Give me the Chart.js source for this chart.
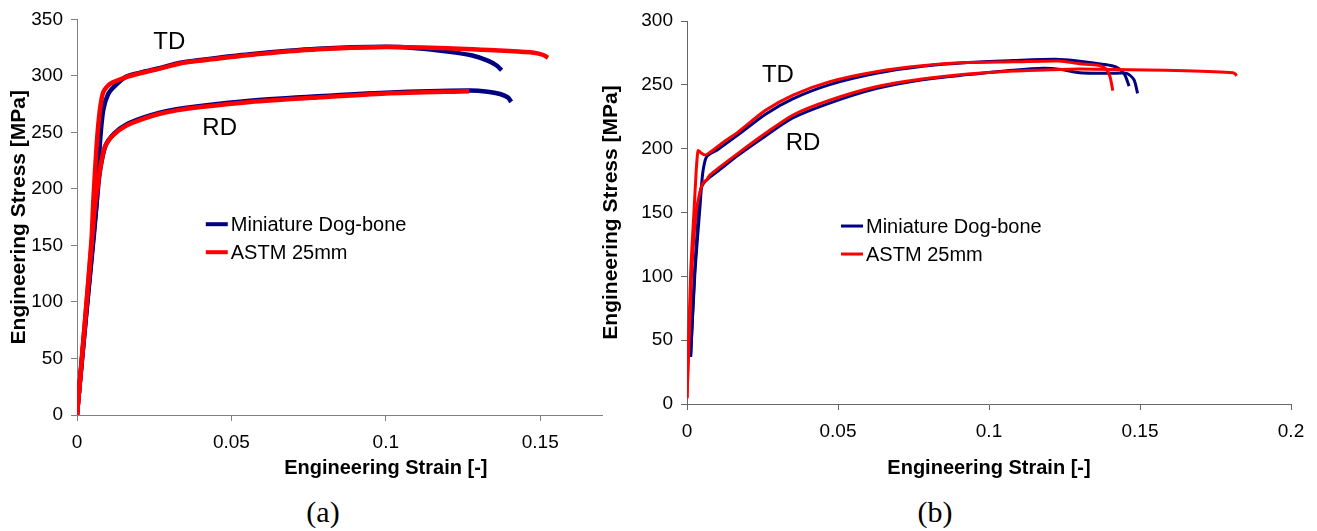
<!DOCTYPE html>
<html>
<head>
<meta charset="utf-8">
<script src="https://cdn.jsdelivr.net/npm/chart.js@4.4.1/dist/chart.umd.min.js"></script>
<style>
  body { margin: 0; background: #fff; width: 1317px; height: 531px; position: relative; overflow: hidden; }
  canvas { position: absolute; top: 0; }
  #chartA { left: 0; }
  #chartB { left: 596px; }
  .cap { position: absolute; top: 512px; transform: translate(-50%, -50%);
         font-family: 'Liberation Serif', 'Times New Roman', serif; font-size: 30px; color: #000; }
</style>
</head>
<body>
<canvas id="chartA" width="612" height="490"></canvas>
<canvas id="chartB" width="721" height="490"></canvas>
<div class="cap" style="left:323px">(a)</div>
<div class="cap" style="left:935px">(b)</div>
<script>
// ---- data (strain [-], stress [MPa]) ----
const seriesNames = ['Miniature Dog-bone', 'ASTM 25mm'];

// (a)
const aMiniTdStrain = [0, 0.0003, 0.003, 0.0052, 0.0064, 0.0074, 0.0085, 0.0101, 0.0122, 0.016, 0.0214, 0.027, 0.033, 0.04, 0.056, 0.078, 0.1, 0.11, 0.12, 0.128, 0.133, 0.136, 0.1375];
const aMiniTdStress = [0, 10, 90, 155, 190, 240, 270, 284, 291, 299.5, 303.5, 307, 311.5, 314.2, 319.2, 324, 325.8, 324.5, 321.5, 318, 313.5, 309, 305];
const aAstmTdStrain = [0, 0.0025, 0.0047, 0.0053, 0.0064, 0.0074, 0.0085, 0.0107, 0.016, 0.0214, 0.0268, 0.0333, 0.04, 0.056, 0.078, 0.1, 0.12, 0.14, 0.148, 0.151, 0.1525];
const aAstmTdStress = [0, 80, 155, 190, 240, 269.5, 285.5, 293, 299, 303, 306.5, 311, 313.5, 318.5, 323.5, 325.5, 324.5, 322, 320.5, 318.5, 316];
const aMiniRdStrain = [0, 0.0003, 0.003, 0.0055, 0.0066, 0.0075, 0.0092, 0.012, 0.016, 0.0214, 0.0268, 0.0322, 0.04, 0.056, 0.078, 0.1, 0.127, 0.133, 0.137, 0.1395, 0.1406];
const aMiniRdStress = [0, 10, 90, 160, 195, 217, 238, 249, 257, 263, 267.5, 270.5, 273.5, 278, 282, 285.2, 287, 286, 284, 281, 277];
const aAstmRdStrain = [0, 0.0025, 0.0047, 0.0058, 0.0066, 0.0074, 0.009, 0.0117, 0.016, 0.0214, 0.0268, 0.0322, 0.04, 0.056, 0.078, 0.1, 0.127];
const aAstmRdStress = [0, 80, 150, 185, 200, 216.5, 237, 247.5, 256, 262, 266.5, 269.5, 272.5, 277, 281, 284.5, 286.5];

// (b)
const bMiniTdStrain = [0.0012, 0.0026, 0.0043, 0.0052, 0.0065, 0.01, 0.017, 0.026, 0.035, 0.047, 0.0626, 0.078, 0.093, 0.108, 0.122, 0.13, 0.138, 0.142, 0.1447, 0.1464];
const bMiniTdStress = [37, 102, 154.5, 180.7, 193.7, 199, 211, 227, 239, 250, 259, 264.5, 267.5, 269, 270, 268.5, 266, 264, 259, 249];
const bAstmTdStrain = [0, 0.0012, 0.0024, 0.003, 0.0034, 0.0037, 0.0045, 0.006, 0.0075, 0.0131, 0.0169, 0.026, 0.0351, 0.0473, 0.0626, 0.0778, 0.093, 0.1082, 0.1234, 0.13, 0.1356, 0.1385, 0.14, 0.141];
const bAstmTdStress = [4.5, 102, 154.5, 180.7, 193.7, 198.4, 197, 195, 197, 206.8, 213, 230, 242, 252.5, 260.3, 265, 267.4, 268, 268.7, 266.5, 265.5, 263, 257, 245.5];
const bMiniRdStrain = [0.0012, 0.0025, 0.0038, 0.0045, 0.0055, 0.0071, 0.01, 0.017, 0.026, 0.035, 0.047, 0.0626, 0.078, 0.093, 0.108, 0.118, 0.124, 0.13, 0.14, 0.1456, 0.148, 0.1492];
const bMiniRdStress = [37, 102, 150, 167.6, 173, 176.8, 182, 195, 210, 224, 235.5, 247, 254, 258, 261.5, 263, 262, 259.5, 259, 259, 254, 243.3];
const bAstmRdStrain = [0, 0.0015, 0.003, 0.0045, 0.0054, 0.0065, 0.0076, 0.0169, 0.026, 0.0351, 0.0473, 0.0626, 0.0778, 0.093, 0.1082, 0.1234, 0.13, 0.152, 0.165, 0.1808, 0.1815, 0.182];
const bAstmRdStress = [4.5, 100, 150, 168, 173.5, 175.5, 179.4, 196.3, 212, 226.4, 238, 248.5, 254.6, 258.5, 260.8, 262, 262.4, 261.6, 261, 259.5, 258.5, 257];

const BLUE = '#000080';
const RED = '#ff0000';
const FONT = "'Liberation Sans', Arial, sans-serif";

function pts(xs, ys) {
  return xs.map((v, i) => ({ x: v, y: ys[i] }));
}

function line(name, xs, ys, color, width) {
  return {
    label: name,
    data: pts(xs, ys),
    borderColor: color,
    backgroundColor: color,
    borderWidth: width,
    pointRadius: 0,
    showLine: true,
    tension: 0.25,
    fill: false
  };
}

// draws TD/RD labels, the in-plot legend and the x axis title
const notes = {
  id: 'notes',
  afterDatasetsDraw(chart, args, opts) {
    const { ctx } = chart;
    const x = chart.scales.x, y = chart.scales.y;
    ctx.save();
    ctx.fillStyle = '#000';
    ctx.textBaseline = 'middle';

    ctx.font = '24px ' + FONT;
    ctx.textAlign = 'center';
    opts.labels.forEach(l => ctx.fillText(l.text, x.getPixelForValue(l.x), y.getPixelForValue(l.y)));

    ctx.font = '20px ' + FONT;
    ctx.textAlign = 'left';
    const lx = x.getPixelForValue(opts.legend.x);
    const ly = y.getPixelForValue(opts.legend.y);
    [BLUE, RED].forEach((c, i) => {
      const yy = ly + i * 28;
      ctx.strokeStyle = c;
      ctx.lineWidth = opts.legend.lw;
      ctx.beginPath();
      ctx.moveTo(lx, yy);
      ctx.lineTo(lx + 22, yy);
      ctx.stroke();
      ctx.fillText(seriesNames[i], lx + 25, yy + 1);
    });

    ctx.font = 'bold 20px ' + FONT;
    ctx.textAlign = 'center';
    ctx.fillText('Engineering Strain [-]', x.getPixelForValue(opts.xTitleAt), opts.xTitleY);
    ctx.restore();
  }
};

function makeChart(id, cfg) {
  const axisColor = cfg.axisColor;
  return new Chart(document.getElementById(id), {
    type: 'scatter',
    data: { datasets: cfg.datasets },
    options: {
      responsive: false,
      animation: false,
      devicePixelRatio: 1,
      layout: { padding: { top: cfg.padTop, right: cfg.padRight, left: 0, bottom: 0 } },
      plugins: {
        legend: { display: false },
        tooltip: { enabled: false },
        notes: cfg.notes
      },
      scales: {
        x: {
          type: 'linear',
          min: 0,
          max: cfg.xMax,
          afterFit: s => { s.height = cfg.xHeight; },
          ticks: {
            stepSize: 0.05,
            includeBounds: false,
            padding: 10,
            color: '#000',
            font: { family: FONT, size: 19 },
            callback: v => String(+v.toFixed(2))
          },
          grid: { drawOnChartArea: false, tickLength: 6, color: axisColor },
          border: { color: axisColor, width: 1 }
        },
        y: {
          min: 0,
          max: cfg.yMax,
          afterFit: s => { s.width = cfg.yWidth; },
          ticks: {
            stepSize: 50,
            padding: 8,
            color: '#000',
            font: { family: FONT, size: 19 }
          },
          grid: { drawOnChartArea: false, tickLength: 6, color: axisColor },
          border: { color: axisColor, width: 1 },
          title: {
            display: true,
            text: 'Engineering Stress [MPa]',
            color: '#000',
            font: { family: FONT, size: 21, weight: 'bold', lineHeight: 1 },
            padding: { top: cfg.yTitlePad, bottom: 0 }
          }
        }
      }
    },
    plugins: [notes]
  });
}

makeChart('chartA', {
  datasets: [
    line(seriesNames[1], aAstmTdStrain, aAstmTdStress, RED, 4.5),
    line(seriesNames[1], aAstmRdStrain, aAstmRdStress, RED, 4.5),
    line(seriesNames[0], aMiniTdStrain, aMiniTdStress, BLUE, 4.5),
    line(seriesNames[0], aMiniRdStrain, aMiniRdStress, BLUE, 4.5)
  ],
  xMax: 0.17, yMax: 350,
  padTop: 19, padRight: 10, xHeight: 75, yWidth: 77, yTitlePad: 9,
  axisColor: '#808080',
  notes: {
    labels: [{ text: 'TD', x: 0.0299, y: 329.7 }, { text: 'RD', x: 0.0462, y: 254 }],
    legend: { x: 0.0417, y: 168.8, lw: 4 },
    xTitleAt: 0.1, xTitleY: 468
  }
});

makeChart('chartB', {
  datasets: [
    line(seriesNames[1], bAstmTdStrain, bAstmTdStress, RED, 3),
    line(seriesNames[1], bAstmRdStrain, bAstmRdStress, RED, 3),
    line(seriesNames[0], bMiniTdStrain, bMiniTdStress, BLUE, 3),
    line(seriesNames[0], bMiniRdStrain, bMiniRdStress, BLUE, 3)
  ],
  xMax: 0.2, yMax: 300,
  padTop: 21, padRight: 26, xHeight: 86, yWidth: 91, yTitlePad: 4.5,
  axisColor: '#666666',
  notes: {
    labels: [{ text: 'TD', x: 0.0301, y: 257.5 }, { text: 'RD', x: 0.0384, y: 204 }],
    legend: { x: 0.051, y: 139.4, lw: 3 },
    xTitleAt: 0.1, xTitleY: 468
  }
});
</script>
</body>
</html>
